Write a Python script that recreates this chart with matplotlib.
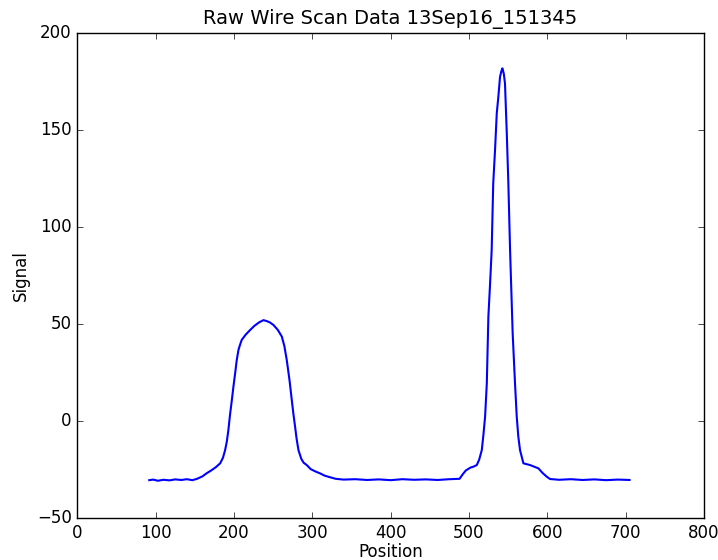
import matplotlib
matplotlib.use("Agg")
import matplotlib.pyplot as plt

# wire scan readings (position vs signal)
position = [92, 97, 103, 110, 118, 125, 133, 140, 147, 153, 160, 165, 171, 177,
            182.5, 186, 188.8, 191, 193, 195, 197.4, 199.5, 201.6, 203.5, 205.8, 208,
            210, 215, 220.7, 226, 232, 237.7, 242, 246, 250.5, 256, 261.2, 264.5,
            267.5, 271, 273.9, 276, 278.1, 280, 282.4, 286, 289, 293, 298, 304,
            310, 316, 322.8, 330, 340, 355, 370, 385, 400, 415, 430, 445, 460, 475,
            488, 492, 496, 502, 506, 510, 513, 516.4, 518.5, 520.6, 522.8, 524.8,
            527, 529, 531, 533.3, 535.5, 537.5, 539.7, 541.5, 542.7, 544.5, 546,
            548.3, 550.3, 552.5, 555.8, 558.8, 561, 563, 565.2, 569.5, 574, 578,
            583, 588.6, 594, 599.3, 603.5, 615, 630, 645, 660, 675, 690, 705]
signal = [-30.5, -30.2, -30.8, -30.3, -30.6, -30.1, -30.4, -30.0, -30.5, -29.8, -28.5, -27.0, -25.5, -23.8,
          -21.8, -19.0, -15.0, -10.5, -4.6, 3.0, 10.8, 18.0, 24.6, 31.0, 36.6, 39.5,
          41.8, 44.5, 46.9, 49.0, 50.8, 52.0, 51.5, 50.8, 49.5, 47.0, 43.5, 38.5,
          31.4, 21.0, 10.8, 3.5, -2.9, -9.0, -15.0, -19.5, -21.5, -22.7, -24.8, -26.0,
          -27.0, -28.2, -29.0, -29.8, -30.2, -30.0, -30.4, -30.1, -30.5, -30.0, -30.3, -30.1, -30.4, -30.0,
          -29.8, -27.5, -25.5, -24.0, -23.5, -22.7, -20.0, -15.0, -7.0, 2.2, 19.4, 53.8,
          71.0, 88.0, 122.5, 139.7, 158.6, 167.0, 177.5, 180.5, 181.8, 179.0, 174.0,
          148.3, 122.5, 88.0, 45.2, 19.4, 2.2, -8.0, -15.0, -21.8, -22.3, -22.7,
          -23.5, -24.4, -26.8, -28.7, -29.9, -30.3, -30.0, -30.4, -30.1, -30.5, -30.2, -30.4]

plt.style.use("classic")
fig = plt.figure(figsize=(7.18, 5.60), dpi=100)
ax = fig.add_axes([0.1075, 0.075, 0.873, 0.866])
ax.plot(position, signal, color="blue", linewidth=1.5)
ax.set_xlim(0, 800)
ax.set_ylim(-50, 200)
ax.set_title("Raw Wire Scan Data 13Sep16_151345", fontsize=14, y=1.005)
ax.set_xlabel("Position", fontsize=12, labelpad=1)
ax.set_ylabel("Signal", fontsize=12)
ax.tick_params(labelsize=12)
fig.savefig("out.png", dpi=100, facecolor="white")
